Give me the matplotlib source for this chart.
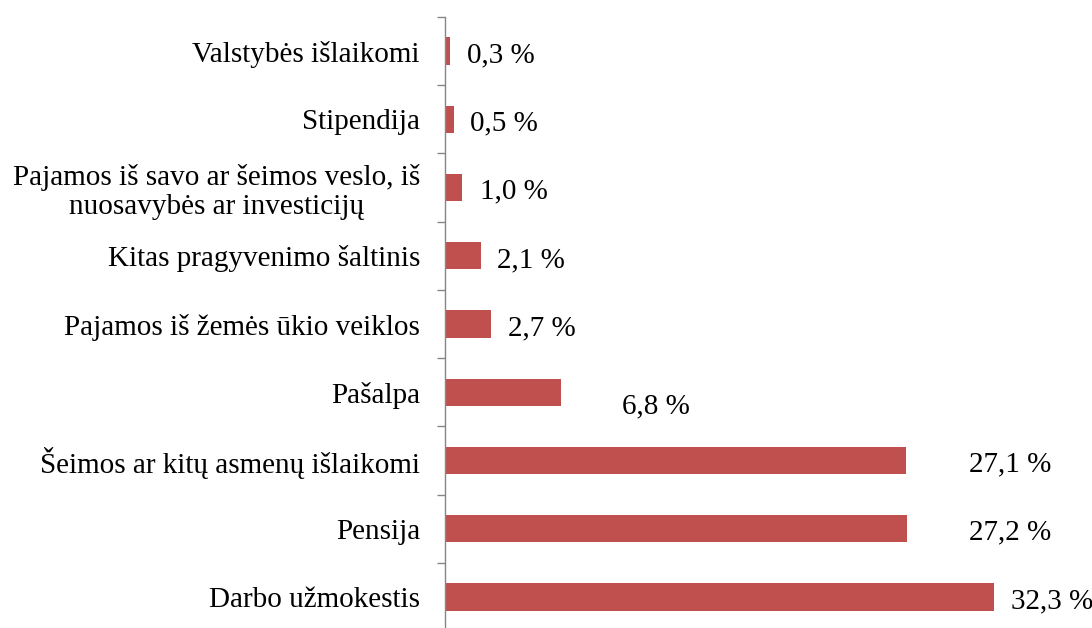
import matplotlib
matplotlib.use("Agg")
import matplotlib.pyplot as plt

categories = [
    "Darbo užmokestis",
    "Pensija",
    "Šeimos ar kitų asmenų išlaikomi",
    "Pašalpa",
    "Pajamos iš žemės ūkio veiklos",
    "Kitas pragyvenimo šaltinis",
    "Pajamos iš savo ar šeimos veslo, iš\nnuosavybės ar investicijų",
    "Stipendija",
    "Valstybės išlaikomi",
]
values = [32.3, 27.2, 27.1, 6.8, 2.7, 2.1, 1.0, 0.5, 0.3]
value_labels = ["32,3 %", "27,2 %", "27,1 %", "6,8 %", "2,7 %", "2,1 %", "1,0 %", "0,5 %", "0,3 %"]

# label placement (style): horizontal gap after bar end (data units), vertical shift (categories)
label_dx = [1.0, 3.6, 3.7, 3.6, 1.0, 0.95, 1.05, 1.0, 1.0]
label_dy = [0.0, 0.0, 0.0, -0.15, 0.0, 0.0, 0.0, 0.0, 0.0]

plt.rcParams['font.family'] = ['Liberation Serif', 'DejaVu Serif']
fs = 21

fig = plt.figure(figsize=(10.92, 6.28), dpi=100)
ax = fig.add_axes([445/1092, (628-631)/628, 595/1092, 614/628])

pos = list(range(len(categories)))
ax.barh(pos, values, height=0.4, color="#C0504D", edgecolor="none", zorder=2)

for p, v, lab, dx, dy in zip(pos, values, value_labels, label_dx, label_dy):
    ax.annotate(lab, xy=(v + dx, p + dy), xytext=(0, -3), textcoords="offset points",
                ha="left", va="center", fontsize=fs, color="black",
                annotation_clip=False)

ax.set_xlim(0, 35)
ax.set_ylim(-0.5, len(categories) - 0.5)

ax.set_yticks(pos)
ax.set_yticklabels(categories, fontsize=fs, multialignment="center", linespacing=1.15)
ax.set_yticks([p - 0.5 for p in pos] + [len(categories) - 0.5], minor=True)
ax.tick_params(axis="y", which="major", length=0, pad=18)
ax.tick_params(axis="y", which="minor", length=5.8, width=1.0, color="#868686")
ax.set_xticks([])

for s in ["top", "right", "bottom"]:
    ax.spines[s].set_visible(False)
ax.spines["left"].set_color("#868686")
ax.spines["left"].set_linewidth(1.0)
ax.patch.set_visible(False)

fig.savefig("out.png", dpi=100)
